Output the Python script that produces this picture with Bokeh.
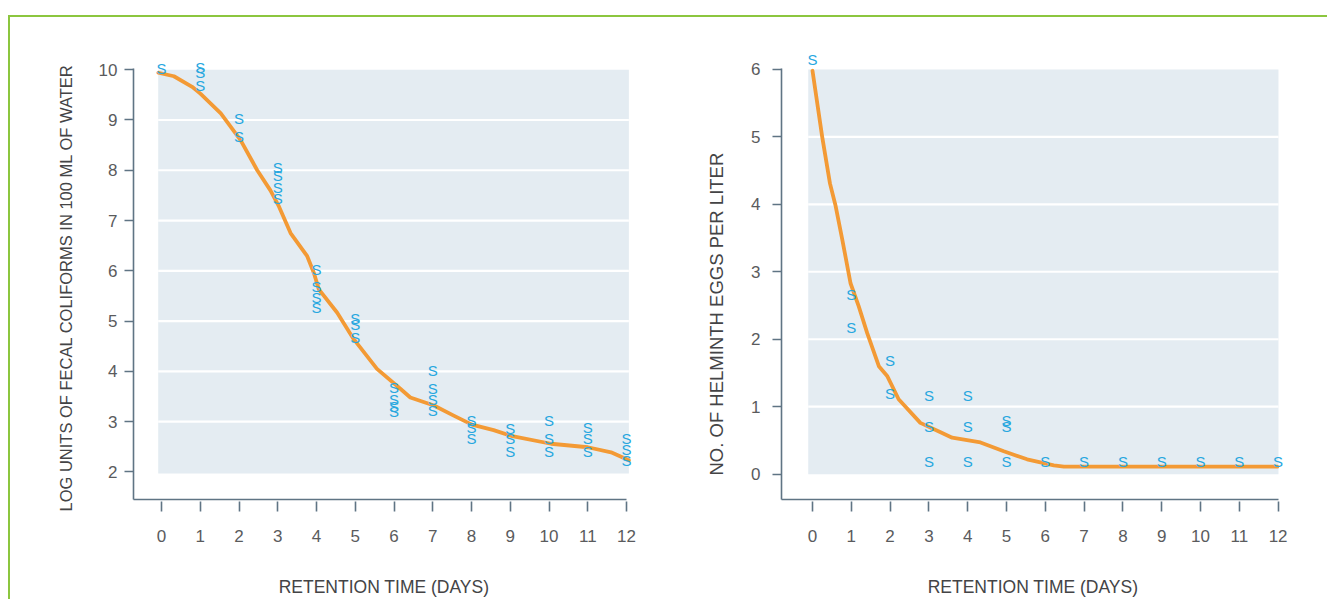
from bokeh.plotting import figure
from bokeh.models import ColumnDataSource, FixedTicker, Range1d, Title
from bokeh.layouts import row
from bokeh.embed import file_html
from bokeh.resources import INLINE
from bokeh.core.properties import value

# ---------------- data ----------------
days = list(range(13))
fc_ticks = [2, 3, 4, 5, 6, 7, 8, 9, 10]
he_ticks = [0, 1, 2, 3, 4, 5, 6]

# fecal coliforms: observations ("S" marks)
fc_obs_x = [0, 1, 1, 1, 2, 2, 3, 3, 3, 3, 4, 4, 4, 4, 5, 5, 5, 6, 6, 6, 6,
            7, 7, 7, 7, 8, 8, 8, 9, 9, 9, 10, 10, 10, 11, 11, 11, 12, 12, 12]
fc_obs_y = [10.03, 10.05, 9.95, 9.69, 9.03, 8.67, 8.05, 7.9, 7.65, 7.43,
            6.03, 5.69, 5.47, 5.27, 5.05, 4.93, 4.68, 3.67, 3.45, 3.3, 3.2,
            4.01, 3.65, 3.44, 3.22, 3.02, 2.89, 2.66, 2.87, 2.66, 2.4,
            3.02, 2.66, 2.4, 2.89, 2.66, 2.4, 2.66, 2.44, 2.22]
# fecal coliforms: fitted curve
fc_fit_x = [-0.08, 0.32, 0.79, 1.01, 1.53, 2.04, 2.47, 2.81, 3.03, 3.33, 3.76,
            3.93, 4.06, 4.53, 4.96, 5.56, 6.17, 6.42, 7.03, 7.54, 8.01, 8.57,
            9.05, 10.05, 11.0, 11.6, 12.06]
fc_fit_y = [9.94, 9.87, 9.66, 9.52, 9.13, 8.6, 8.0, 7.6, 7.28, 6.75, 6.29,
            5.96, 5.63, 5.17, 4.64, 4.05, 3.65, 3.48, 3.32, 3.12, 2.94, 2.83,
            2.71, 2.56, 2.49, 2.39, 2.23]

# helminth eggs: observations
he_obs_x = [0, 1, 1, 2, 2, 3, 3, 3, 4, 4, 4, 5, 5, 5, 6, 7, 8, 9, 10, 11, 12]
he_obs_y = [6.14, 2.67, 2.18, 1.68, 1.19, 1.17, 0.70, 0.18, 1.17, 0.70, 0.18,
            0.80, 0.70, 0.18, 0.18, 0.18, 0.18, 0.18, 0.18, 0.18, 0.18]
# helminth eggs: fitted curve
he_fit_x = [0.0, 0.25, 0.45, 0.59, 0.77, 0.98, 1.19, 1.41, 1.71, 1.93, 2.22,
            2.78, 3.3, 3.6, 4.33, 4.93, 5.53, 6.22, 6.48, 11.98]
he_fit_y = [5.98, 5.0, 4.31, 3.99, 3.47, 2.83, 2.49, 2.09, 1.6, 1.45, 1.11,
            0.76, 0.62, 0.54, 0.47, 0.34, 0.22, 0.13, 0.11, 0.11]

x_title = "RETENTION TIME (DAYS)"
fc_title = "LOG UNITS OF FECAL COLIFORMS IN 100 ML OF WATER"
he_title = "NO. OF HELMINTH EGGS PER LITER"

# ---------------- style ----------------
FONT = "Liberation Sans"
AXIS_C = "#5f7484"
LABEL_C = "#5a5b5d"
TITLE_C = "#444446"
SHADE_C = "#e4ecf2"
CURVE_C = "#f39a35"
MARK_C = "#27a7df"
GREEN = "#8cc63f"
H = 582
FRAME_TOP = 31
FRAME_H = 453


def make_panel(width, left_border, frame_w, xr, yr, ybounds, yticks, band,
               grid_vals, obs_x, obs_y, fit_x, fit_y, ystandoff,
               ytitle, ytitle_size, ytitle_offset, ytitle_standoff):
    p = figure(width=width, height=H, x_range=Range1d(*xr), y_range=Range1d(*yr),
               output_backend="svg", toolbar_location=None, tools="",
               min_border_left=left_border, min_border_right=width - left_border - frame_w,
               min_border_top=FRAME_TOP, min_border_bottom=H - FRAME_TOP - FRAME_H,
               background_fill_color="white", border_fill_color="white")
    p.outline_line_color = None
    p.xgrid.visible = False
    p.ygrid.visible = False

    # shaded plotting band with white gridlines
    p.quad(left=[band[0]], right=[band[1]], bottom=[band[2]], top=[band[3]],
           fill_color=SHADE_C, line_color=None)
    p.segment(x0=[band[0]] * len(grid_vals), x1=[band[1]] * len(grid_vals),
              y0=grid_vals, y1=grid_vals, line_color="white", line_width=2.2)

    p.line(fit_x, fit_y, line_color=CURVE_C, line_width=3.8, line_join="round",
           line_cap="round")
    src = ColumnDataSource(dict(x=obs_x, y=obs_y, t=["S"] * len(obs_x)))
    p.text(x="x", y="y", text="t", source=src, text_font=value(FONT),
           text_font_size="15px", text_color=MARK_C, text_align="center",
           text_baseline="middle")

    for ax in (p.xaxis[0], p.yaxis[0]):
        ax.axis_line_color = AXIS_C
        ax.axis_line_width = 1.6
        ax.major_tick_line_color = AXIS_C
        ax.major_tick_line_width = 1.6
        ax.minor_tick_line_color = None
        ax.major_label_text_font = FONT
        ax.major_label_text_font_size = "17px"
        ax.major_label_text_color = LABEL_C
        ax.axis_label_text_font = FONT
        ax.axis_label_text_font_style = "normal"
        ax.axis_label_text_color = TITLE_C
    p.xaxis.ticker = FixedTicker(ticks=days)
    p.xaxis.bounds = (xr[0], 12)
    p.xaxis.major_tick_in = -2
    p.xaxis.major_tick_out = 12
    p.xaxis.major_label_standoff = 18
    p.xaxis.axis_label = x_title
    p.xaxis.axis_label_text_font_size = "17.5px"
    p.xaxis.axis_label_standoff = 32
    p.yaxis.ticker = FixedTicker(ticks=yticks)
    p.yaxis.bounds = ybounds
    p.yaxis.major_tick_in = 0
    p.yaxis.major_tick_out = 9
    p.yaxis.major_label_standoff = ystandoff

    p.add_layout(Title(text=ytitle, align="left", offset=ytitle_offset,
                       standoff=ytitle_standoff, text_font=FONT,
                       text_font_size=ytitle_size, text_font_style="normal",
                       text_color=TITLE_C), "left")
    return p


p1 = make_panel(width=658, left_border=123, frame_w=501,
                xr=(-0.7226, 12.205), yr=(1.451, 10.422), ybounds=(1.451, 10.026),
                yticks=fc_ticks, band=(-0.085, 12.06, 1.97, 10.0),
                grid_vals=[3, 4, 5, 6, 7, 8, 9],
                obs_x=fc_obs_x, obs_y=fc_obs_y, fit_x=fc_fit_x, fit_y=fc_fit_y,
                ystandoff=7, ytitle=fc_title, ytitle_size="16.5px",
                ytitle_offset=-12, ytitle_standoff=42)

p2 = make_panel(width=659, left_border=113, frame_w=503,
                xr=(-0.799, 12.165), yr=(-0.376, 6.310), ybounds=(-0.376, 6.015),
                yticks=he_ticks, band=(-0.11, 12.01, 0.0, 6.0),
                grid_vals=[1, 2, 3, 4, 5],
                obs_x=he_obs_x, obs_y=he_obs_y, fit_x=he_fit_x, fit_y=he_fit_y,
                ystandoff=12, ytitle=he_title, ytitle_size="18.5px",
                ytitle_offset=24, ytitle_standoff=43)

layout = row(p1, p2, margin=(15, 0, 0, 8),
             styles={"border-top": "2px solid " + GREEN,
                     "border-left": "2px solid " + GREEN})
open("out.html", "w").write(file_html(layout, INLINE))
